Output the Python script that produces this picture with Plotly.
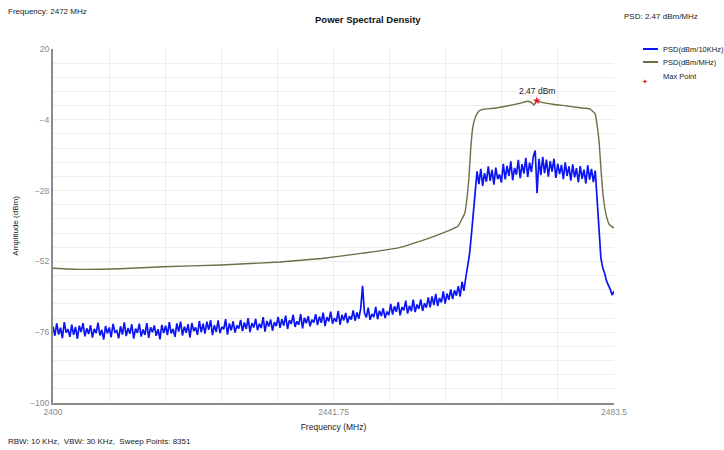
import numpy as np
import plotly.graph_objects as go

# ---------------- data ----------------
FREQ_START = 2400.0
FREQ_STOP = 2483.5

# PSD (dBm/10KHz) sweep values, evenly spaced across FREQ_START..FREQ_STOP
psd_10k = [
    -74.1, -77.2, -73.0, -76.8, -74.5, -78.0, -72.6, -76.1, -75.0, -77.6, -73.4, -76.9, -74.2, -78.3, -73.8, -75.9, -72.9, -77.4, -74.7, -76.6,
    -73.6, -77.8, -74.9, -76.3, -72.8, -77.1, -75.2, -78.5, -73.9, -76.4, -74.4, -77.7, -73.2, -76.0, -75.5, -78.1, -74.0, -76.8, -72.7, -77.3,
    -74.6, -76.5, -73.3, -78.2, -74.8, -76.2, -73.1, -77.5, -75.1, -76.9, -72.9, -77.9, -74.3, -76.0, -73.7, -77.2, -75.0, -78.4, -73.5, -76.3,
    -73.8, -77.0, -72.6, -76.4, -74.9, -77.6, -73.0, -75.8, -72.4, -77.1, -74.1, -76.2, -73.3, -77.8, -72.9, -75.6, -74.4, -76.9, -72.2, -76.0,
    -73.1, -76.5, -72.4, -75.2, -71.9, -77.0, -73.6, -75.9, -72.0, -76.3, -74.2, -75.0, -71.6, -76.8, -73.0, -75.4, -72.3, -76.1, -73.7, -74.8,
    -71.8, -75.6, -72.7, -74.9, -71.2, -76.0, -72.9, -74.4, -71.5, -75.3, -73.1, -74.6, -70.9, -75.8, -72.2, -74.1, -71.7, -75.5, -72.6, -73.9,
    -70.8, -74.5, -71.6, -73.8, -70.4, -74.9, -71.9, -73.2, -70.1, -74.2, -72.3, -73.5, -69.9, -74.7, -71.1, -73.0, -70.6, -74.0, -71.8, -72.7,
    -69.9, -73.6, -70.7, -72.8, -69.4, -73.9, -70.9, -72.3, -69.0, -73.1, -71.2, -72.5, -68.8, -73.4, -70.1, -72.0, -69.5, -72.9, -70.6, -71.7,
    -68.6, -72.1, -69.3, -71.4, -68.0, -60.3, -69.5, -71.0, -67.7, -71.8, -69.8, -70.9, -67.4, -71.6, -68.7, -70.5, -67.9, -71.2, -69.0, -70.2,
    -66.4, -70.0, -67.2, -69.1, -65.8, -70.3, -67.5, -68.6, -65.3, -69.7, -67.0, -68.9, -65.0, -69.2, -66.6, -68.1, -64.9, -68.8, -66.2, -67.7,
    -64.2, -67.6, -63.9, -66.8, -63.0, -67.1, -64.4, -65.9, -62.2, -66.3, -62.9, -65.0, -61.5, -64.8, -61.8, -63.6, -60.4, -63.9, -58.9, -62.0,
    -57.5, -54.0, -49.5, -43.0, -35.5, -27.0, -21.5, -25.8, -20.6, -26.4, -22.1, -25.0, -19.8, -24.7, -21.0, -26.0, -20.2, -24.1, -22.5, -25.3,
    -18.9, -24.2, -19.6, -23.0, -18.1, -24.5, -20.3, -22.6, -17.6, -23.8, -19.0, -22.2, -16.9, -23.4, -18.5, -21.7, -16.4, -14.4, -28.9, -17.2,
    -22.8, -16.6, -22.1, -17.5, -23.3, -18.0, -21.6, -17.2, -23.7, -18.9, -22.4, -19.3, -24.1, -18.4, -23.0, -19.8, -24.6, -19.1, -23.5, -20.4,
    -25.2, -19.7, -24.0, -20.9, -25.6, -19.4, -24.3, -20.6, -25.1, -21.2, -31.0, -44.5, -50.8, -54.2, -56.0, -58.6, -59.8, -61.5, -63.4, -62.1,
]

# PSD (dBm/MHz)
mhz_freq = [2400, 2404, 2410, 2416.4, 2425, 2433.8, 2440, 2446.1, 2451.2, 2456.1,
            2459, 2460.3, 2460.9, 2461.3, 2461.6, 2461.9, 2462.2, 2462.5, 2462.9, 2463.4,
            2464.0, 2465.5, 2467.6, 2469.5, 2470.7, 2471.2, 2471.6, 2472.0, 2472.6, 2474.4,
            2476.5, 2478.4, 2479.9, 2480.4, 2480.7, 2481.0, 2481.3, 2481.6, 2481.9, 2482.3,
            2482.8, 2483.5]
mhz_psd = [-54.3, -54.7, -54.5, -53.8, -53.2, -52.2, -51.0, -49.2, -47.5, -44.0,
           -41.5, -40.0, -37.5, -35.6, -31.0, -24.0, -13.0, -6.3, -2.9, -1.0,
           -0.45, -0.1, 0.7, 1.6, 2.3, 1.8, 1.0, 2.47, 2.0, 1.25,
           0.7, 0.1, -0.3, -1.25, -2.0, -6.0, -12.0, -22.0, -30.0, -36.0,
           -39.5, -40.7]

max_freq = [2472]
max_psd = [2.47]

y_tick_vals = [20, -4, -28, -52, -76, -100]
x_tick_vals = [2400, 2441.75, 2483.5]
x_tick_text = ["2400", "2441.75", "2483.5"]

# ---------------- figure ----------------
W, H = 724, 450
L, R, T, B = 53, 110, 49, 47
PW, PH = W - L - R, H - T - B


def px(x):
    return (x - L) / PW


def py(y):
    return (H - B - y) / PH


sweep_freq = np.linspace(FREQ_START, FREQ_STOP, len(psd_10k))

FONT = "Liberation Sans, Arial, sans-serif"
BLUE = "#0a14f5"
OLIVE = "#6e6e46"
TXT = "#222222"

fig = go.Figure()
fig.add_trace(go.Scatter(x=sweep_freq, y=psd_10k, mode="lines",
                         line=dict(color=BLUE, width=1.7), showlegend=False,
                         name="PSD(dBm/10KHz)"))
fig.add_trace(go.Scatter(x=mhz_freq, y=mhz_psd, mode="lines",
                         line=dict(color=OLIVE, width=1.4, shape="spline", smoothing=0.4),
                         showlegend=False, name="PSD(dBm/MHz)"))
fig.add_trace(go.Scatter(x=max_freq, y=max_psd, mode="markers",
                         marker=dict(color="#e8141e", size=6, symbol="star"),
                         showlegend=False, name="Max Point"))

annotations = [
    dict(x=max_freq[0], y=max_psd[0], xref="x", yref="y", text=f"{max_psd[0]:.2f} dBm",
         showarrow=False, yshift=10, font=dict(size=8.5, color=TXT)),
    dict(x=px(6), y=py(11), xref="paper", yref="paper", text="Frequency: 2472 MHz",
         showarrow=False, xanchor="left", yanchor="middle", font=dict(size=8, color=TXT)),
    dict(x=px(368), y=py(19), xref="paper", yref="paper", text="<b>Power Spectral Density</b>",
         showarrow=False, xanchor="center", yanchor="middle", font=dict(size=9.5, color="#111111")),
    dict(x=px(622), y=py(16), xref="paper", yref="paper", text="PSD: 2.47 dBm/MHz",
         showarrow=False, xanchor="left", yanchor="middle", font=dict(size=8, color=TXT)),
    dict(x=px(6), y=py(441), xref="paper", yref="paper",
         text="RBW: 10 KHz,  VBW: 30 KHz,  Sweep Points: 8351",
         showarrow=False, xanchor="left", yanchor="middle", font=dict(size=8, color=TXT)),
]

# manual legend
legend_items = [("PSD(dBm/10KHz)", BLUE, 49), ("PSD(dBm/MHz)", OLIVE, 62), ("Max Point", None, 76)]
shapes = []
for label, col, yy in legend_items:
    if col is not None:
        shapes.append(dict(type="line", xref="paper", yref="paper", x0=px(643), x1=px(658),
                           y0=py(yy), y1=py(yy), line=dict(color=col, width=2)))
    else:
        annotations.append(dict(x=px(650), y=py(yy), xref="paper", yref="paper", text="✦",
                                showarrow=False, font=dict(size=7, color="#e8141e")))
    annotations.append(dict(x=px(661), y=py(yy), xref="paper", yref="paper", text=label,
                            showarrow=False, xanchor="left", yanchor="middle",
                            font=dict(size=7.5, color=TXT)))

fig.update_layout(
    width=W, height=H,
    margin=dict(l=L, r=R, t=T, b=B),
    paper_bgcolor="white", plot_bgcolor="white",
    font=dict(family=FONT, size=8.5, color="#555555"),
    annotations=annotations, shapes=shapes,
    xaxis=dict(range=[FREQ_START, FREQ_STOP], tickvals=x_tick_vals, ticktext=x_tick_text,
               showgrid=True, gridcolor="#eeeeee", gridwidth=1,
               minor=dict(dtick=8.35, tick0=2400, showgrid=True, gridcolor="#eeeeee", gridwidth=1),
               showline=True, linecolor="#8c8c8c", linewidth=2, ticks="", zeroline=False,
               tickfont=dict(size=8.5, color="#8a8a8a"),
               title=dict(text="Frequency (MHz)", font=dict(size=8.5, color=TXT), standoff=8)),
    yaxis=dict(range=[-100, 20], tickvals=y_tick_vals,
               showgrid=True, gridcolor="#eeeeee", gridwidth=1,
               minor=dict(dtick=4.8, tick0=20, showgrid=True, gridcolor="#eeeeee", gridwidth=1),
               showline=True, linecolor="#8c8c8c", linewidth=2, ticks="", zeroline=False,
               tickfont=dict(size=8.5, color="#8a8a8a"),
               title=dict(text="Amplitude (dBm)", font=dict(size=8, color=TXT), standoff=10)),
)

fig.write_html("out.html", config={"displayModeBar": False},
               post_script="document.body.style.margin='0';")
